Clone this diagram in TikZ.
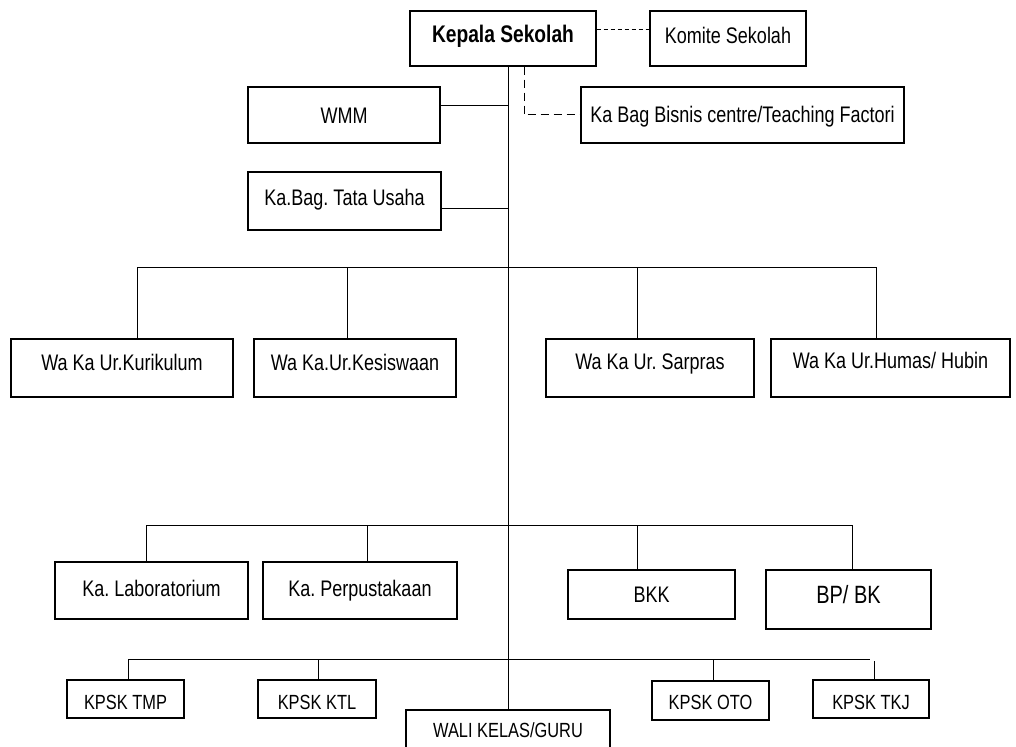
\documentclass[tikz,border=0pt]{standalone}
\usepackage{fontspec}
\setmainfont{Liberation Sans}[FakeStretch=0.8]
\usetikzlibrary{calc}
\frenchspacing

\tikzset{
  unitbox/.style={draw, line width=1.1pt, inner sep=0pt, align=center,
    text height=16.1pt, text depth=0pt,
    font=\fontsize{22.5}{26}\selectfont},
  smallbox/.style={unitbox, text height=14.7pt, font=\fontsize{20.5}{24}\selectfont},
  raise/.style={text depth=#1},
  link/.style={line width=1pt},
}

\begin{document}
\begin{tikzpicture}[x=1pt, y=-1pt]

% Page frame (pixels of the reference, y downwards)
\clip (0,0) rectangle (1016,746);
\fill[white] (0,0) rectangle (1016,746);

% Top level
\node[unitbox, minimum width=186, minimum height=55, text height=17.2pt, raise=10pt, font=\fontsize{24}{28}\selectfont\bfseries] (kepala) at (503,38.5) {Kepala Sekolah};
\node[unitbox, minimum width=156, minimum height=55, raise=7pt] (komite) at (728,38.5) {Komite Sekolah};
\node[unitbox, minimum width=323, minimum height=56, raise=2pt] (bisnis) at (742.5,115) {Ka Bag Bisnis centre/Teaching Factori};
\node[unitbox, minimum width=192, minimum height=56] (wmm) at (344,115) {WMM};
\node[unitbox, minimum width=193, minimum height=58, raise=8pt] (tu) at (344.5,201) {Ka.Bag. Tata Usaha};

% Wakil kepala sekolah
\node[unitbox, minimum width=222, minimum height=58, raise=12pt] (kurikulum) at (122,368) {Wa Ka Ur.Kurikulum};
\node[unitbox, minimum width=202, minimum height=58, raise=12pt] (kesiswaan) at (355,368) {Wa Ka.Ur.Kesiswaan};
\node[unitbox, minimum width=208, minimum height=58, raise=13pt] (sarpras) at (650,368) {Wa Ka Ur. Sarpras};
\node[unitbox, minimum width=239, minimum height=58, raise=15pt] (humas) at (890.5,368) {Wa Ka Ur.Humas/ Hubin};

% Unit pendukung
\node[unitbox, minimum width=193, minimum height=57, raise=5pt] (lab) at (151.5,590.5) {Ka. Laboratorium};
\node[unitbox, minimum width=194, minimum height=57, raise=5pt] (perpus) at (360,590.5) {Ka. Perpustakaan};
\node[unitbox, minimum width=167, minimum height=49] (bkk) at (651.5,594.5) {BKK};
\node[unitbox, minimum width=165, minimum height=59, text height=17.9pt, raise=10pt, font=\fontsize{25}{29}\selectfont] (bpbk) at (848.5,599.5) {BP/ BK};

% Ketua program keahlian
\node[smallbox, minimum width=117, minimum height=38, text height=21.7pt] (tmp) at (125.5,699) {KPSK TMP};
\node[smallbox, minimum width=118, minimum height=38, text height=21.7pt] (ktl) at (317,699) {KPSK KTL};
\node[smallbox, minimum width=117, minimum height=39, text height=17.7pt] (oto) at (710.5,700.5) {KPSK OTO};
\node[smallbox, minimum width=116, minimum height=38, text height=21.7pt] (tkj) at (871,699) {KPSK TKJ};
\node[smallbox, minimum width=204, minimum height=40] (wali) at (508,730) {WALI KELAS/GURU};

% Main line and bars
\coordinate (spine) at (508,0);
\coordinate (bar1) at (0,267);
\coordinate (bar2) at (0,525);
\coordinate (bar3) at (0,659);

\draw[link] (kepala.south -| spine) -- (wali.north -| spine);

% Dashed lines
\draw[link, dash pattern=on 4pt off 3pt] ($(kepala.east)+(0,-9)$) -- ($(komite.west)+(0,-9)$);
\draw[link, dash pattern=on 8pt off 5pt] ($(kepala.south)+(21,0)$) |- (bisnis.west);

% Staff lines
\draw[link] ($(wmm.east)+(0,-9)$) -- ($(wmm.east -| spine)+(0,-9)$);
\draw[link] ($(tu.east)+(0,7)$) -- ($(tu.east -| spine)+(0,7)$);

% Bar 1
\draw[link] ([xshift=15]kurikulum.north) -- ([xshift=15]kurikulum.north |- bar1)
  -- ([xshift=-14]humas.north |- bar1) -- ([xshift=-14]humas.north);
\draw[link] ([xshift=-8]kesiswaan.north) -- ([xshift=-8]kesiswaan.north |- bar1);
\draw[link] ([xshift=-13]sarpras.north) -- ([xshift=-13]sarpras.north |- bar1);

% Bar 2
\draw[link] ([xshift=-5.5]lab.north) -- ([xshift=-5.5]lab.north |- bar2)
  -- ([xshift=3.5]bpbk.north |- bar2) -- ([xshift=3.5]bpbk.north);
\draw[link] ([xshift=7]perpus.north) -- ([xshift=7]perpus.north |- bar2);
\draw[link] ([xshift=-14.5]bkk.north) -- ([xshift=-14.5]bkk.north |- bar2);

% Bar 3
\draw[link] ([xshift=2.5]tmp.north) -- ([xshift=2.5]tmp.north |- bar3) -- ($(bar3)+(870,0)$);
\draw[link] ([xshift=1]ktl.north) -- ([xshift=1]ktl.north |- bar3);
\draw[link] ([xshift=2.5]oto.north) -- ([xshift=2.5]oto.north |- bar3);
\draw[link] ([xshift=3]tkj.north) -- ($([xshift=3]tkj.north |- bar3)+(0,2)$);

\end{tikzpicture}
\end{document}
